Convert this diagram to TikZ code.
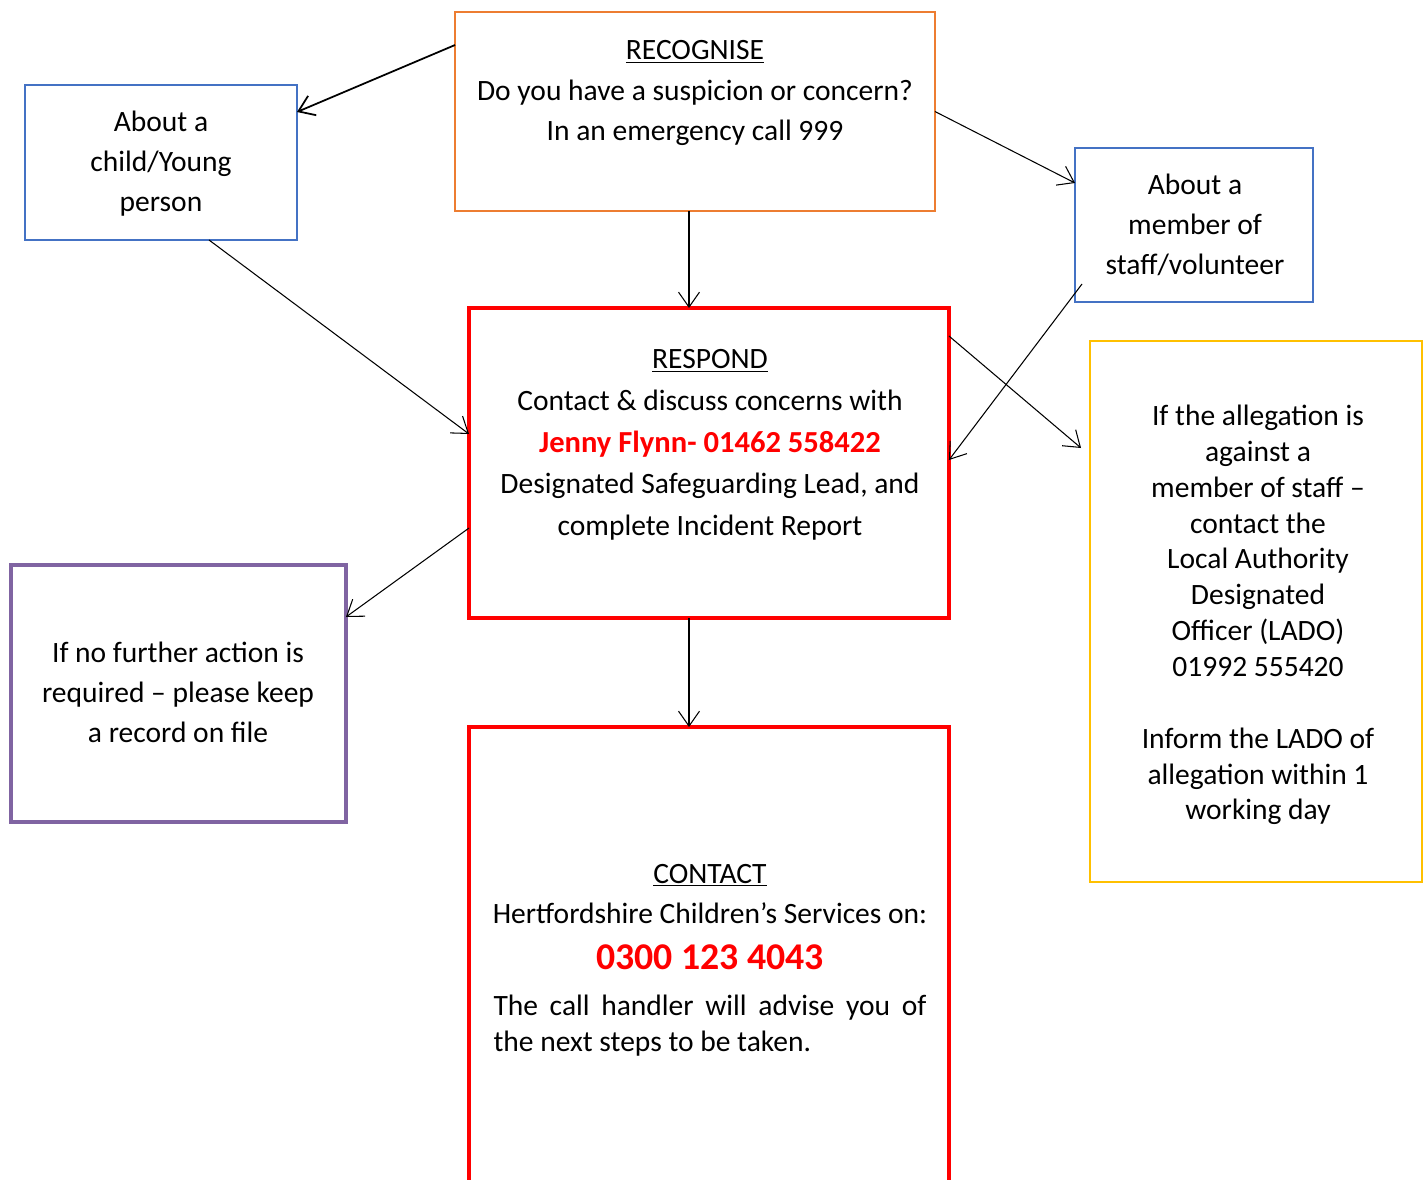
\documentclass[tikz,border=0pt]{standalone}
\usepackage{fontspec}
\setmainfont{Carlito}
\usetikzlibrary{arrows.meta,positioning}
\definecolor{recogorange}{HTML}{ED7D31}
\definecolor{aboutblue}{HTML}{4472C4}
\definecolor{nfapurple}{HTML}{8064A2}
\definecolor{ladogold}{HTML}{FFC000}
\definecolor{alertred}{HTML}{FF0000}
\tikzset{
  box/.style={draw, inner sep=0pt, outer sep=0pt},
  txt/.style={align=center, inner sep=0pt, font=\fontsize{16.8}{22.8}\selectfont},
  flow/.style={-{Straight Barb[length=0.3cm,width=0.42cm]}, line width=0.6pt},
}
\begin{document}
\begin{tikzpicture}[x=0.02cm,y=-0.02cm]
    \useasboundingbox (0,0) rectangle (1424,1180);
    % boxes
    \node[box, recogorange, line width=1.2pt, minimum width=9.6cm, minimum height=3.98cm] (recog) at (695,111.5) {};
    \node[box, aboutblue, line width=1.2pt, minimum width=5.44cm, minimum height=3.1cm] (child) at (161,162.5) {};
    \node[box, aboutblue, line width=1.2pt, minimum width=4.76cm, minimum height=3.08cm] (staff) at (1194,225) {};
    \node[box, alertred, line width=2.6pt, minimum width=9.6cm, minimum height=6.2cm] (respond) at (709,463) {};
    \node[box, nfapurple, line width=2.2pt, minimum width=6.7cm, minimum height=5.14cm] (nfa) at (178.5,693.5) {};
    \node[box, ladogold, line width=1.2pt, minimum width=6.64cm, minimum height=10.82cm] (lado) at (1256,611.5) {};
    \node[box, alertred, line width=2.6pt, minimum width=9.6cm, minimum height=9.12cm] (contact) at (709,955) {};
    % texts
    \node[txt, font=\fontsize{16.8}{23.1}\selectfont] (recogtxt) at (695,93) {\underline{RECOGNISE}\\ Do you have a suspicion or concern?\\ In an emergency call 999};
    \node[txt] (childtxt) at (161,164) {About a\\ child/Young\\ person};
    \node[txt] (stafftxt) at (1195,225) {About a\\ member of\\ staff/volunteer};
    \node[txt, font=\fontsize{16.8}{23.7}\selectfont] (respondtxt) at (710,445) {\underline{RESPOND}\\ Contact \& discuss concerns with\\
        {\fontsize{17.4}{23.7}\selectfont\bfseries\color{alertred}Jenny Flynn- 01462 558422}\\ Designated Safeguarding Lead, and\\ complete Incident Report};
    \node[txt] (nfatxt) at (178,692) {If no further action is\\ required -- please keep\\ a record on file};
    \node[txt, font=\fontsize{16.8}{20.4}\selectfont] (ladotxt) at (1258,615) {If the allegation is\\ against a\\ member of staff --\\ contact the\\
        Local Authority\\ Designated\\ Officer (LADO)\\ 01992 555420\\ ~\\ Inform the LADO of\\ allegation within 1\\ working day};
    \node[txt] (contacttxt) at (710,960) {\underline{CONTACT}\\ Hertfordshire Children’s Services on:\\[3.4pt]
        {\fontsize{21.5}{24}\selectfont\bfseries\color{alertred}0300 123 4043}\\[3.4pt]
        \makebox[8.66cm][s]{The call handler will advise you of}\\[-2.3pt]
        \makebox[8.66cm][l]{the next steps to be taken.}};
    % connectors
    \draw[flow, line width=1pt] (recog.west |- 0,45) -- (child.east |- 0,112);
    \draw[flow] (recog.east) -- (staff.west |- 0,183);
    \draw[flow] (recog.south -| 689,0) -- (respond.north -| 689,0);
    \draw[flow] (child.south -| 209,0) -- (respond.west |- 0,434);
    \draw[flow] ([xshift=0.14cm,yshift=0.36cm]staff.south west) -- (respond.east |- 0,460);
    \draw[flow] (respond.east |- 0,336) -- ([xshift=-0.18cm]lado.west |- 0,448);
    \draw[flow] (respond.west |- 0,528) -- (nfa.east |- 0,617);
    \draw[flow] (respond.south -| 689,0) -- (contact.north -| 689,0);
\end{tikzpicture}
\end{document}
